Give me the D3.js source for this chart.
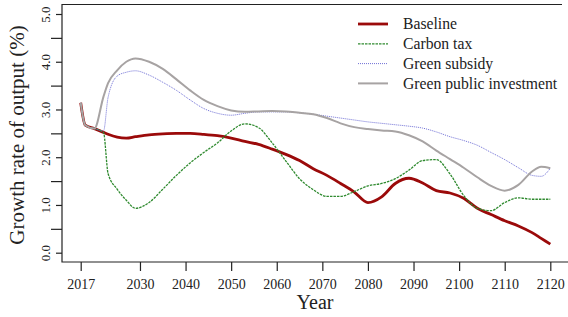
<!DOCTYPE html>
<html lang="en">

<head>
    <meta charset="UTF-8">
    <title>Growth rate of output</title>
    <script src="https://d3js.org/d3.v7.min.js"></script>
    <style type="text/css">
        body {
            margin: 0;
            background: #fff;
        }

        svg text {
            font-family: "Liberation Serif", "DejaVu Serif", serif;
            fill: #222;
        }
    </style>
</head>

<body>
    <div id="chartArea"></div>
    <script type="text/javascript">
        var years = [2017, 2018, 2020, 2022, 2023, 2025, 2027, 2029, 2032, 2035, 2038, 2041, 2044, 2047,
            2050, 2053, 2056, 2059, 2062, 2065, 2068, 2071, 2074, 2077, 2080, 2083, 2086, 2089,
            2092, 2095, 2098, 2101, 2104, 2107, 2110, 2113, 2116, 2118, 2120];

        var baseline = [3.14, 2.67, 2.60, 2.52, 2.48, 2.42, 2.40, 2.43, 2.47, 2.49, 2.50, 2.50, 2.48, 2.45,
            2.40, 2.33, 2.27, 2.17, 2.06, 1.93, 1.76, 1.62, 1.45, 1.27, 1.05, 1.17, 1.45, 1.56,
            1.46, 1.30, 1.25, 1.14, 0.93, 0.80, 0.67, 0.56, 0.42, 0.30, 0.18];

        var carbonTax = [3.14, 2.67, 2.60, 2.52, 1.66, 1.33, 1.10, 0.93, 1.05, 1.33, 1.62, 1.88, 2.10, 2.30,
            2.55, 2.70, 2.62, 2.30, 1.92, 1.55, 1.32, 1.18, 1.18, 1.28, 1.40, 1.45, 1.55, 1.73,
            1.93, 1.95, 1.65, 1.20, 0.93, 0.88, 1.05, 1.15, 1.12, 1.12, 1.12];

        var greenSubsidy = [3.14, 2.67, 2.60, 2.55, 3.25, 3.70, 3.78, 3.81, 3.72, 3.57, 3.40, 3.20, 3.02, 2.92,
            2.88, 2.92, 2.95, 2.95, 2.95, 2.93, 2.90, 2.86, 2.82, 2.78, 2.74, 2.71, 2.68, 2.65,
            2.61, 2.53, 2.43, 2.35, 2.25, 2.10, 1.95, 1.78, 1.62, 1.60, 1.77];

        var greenInvest = [3.14, 2.67, 2.60, 3.27, 3.55, 3.82, 4.00, 4.07, 4.00, 3.85, 3.63, 3.40, 3.20, 3.07,
            2.98, 2.95, 2.96, 2.97, 2.96, 2.93, 2.90, 2.82, 2.71, 2.63, 2.59, 2.56, 2.54, 2.46,
            2.33, 2.14, 1.96, 1.78, 1.58, 1.40, 1.30, 1.42, 1.70, 1.80, 1.77];

        var xTicks = [2017, 2030, 2040, 2050, 2060, 2070, 2080, 2090, 2100, 2110, 2120];
        var yMajor = [0, 1, 2, 3, 4, 5];
        var yMinor = [0.5, 1.5, 2.5, 3.5, 4.5];

        var series = [
            { name: 'Baseline', values: baseline, color: '#9b0a0a', width: 2.8, dash: null },
            { name: 'Carbon tax', values: carbonTax, color: '#2f8a2f', width: 1.3, dash: '2.5,1' },
            { name: 'Green subsidy', values: greenSubsidy, color: '#6f6fd6', width: 1, dash: '1,1' },
            { name: 'Green public investment', values: greenInvest, color: '#a7a3a3', width: 2, dash: null }
        ];

        var w = 568, h = 317;
        var boxL = 62, boxT = 4.5, boxB = 262, boxR = 568;

        var svg = d3.select('#chartArea').append('svg')
            .attr('width', w)
            .attr('height', h);

        var xScale = d3.scaleLinear()
            .domain([2017, 2120])
            .range([80.7, 550.3]);

        var yScale = d3.scaleLinear()
            .domain([0, 5])
            .range([252.7, 14]);

        // frame: left, top and bottom edges
        svg.append('path')
            .attr('d', 'M562,' + boxT + 'H' + boxL + 'V' + boxB + 'H' + boxR)
            .attr('fill', 'none')
            .attr('stroke', '#222')
            .attr('stroke-width', 1.2);

        // x axis
        var xAxis = svg.append('g')
            .attr('transform', 'translate(0,' + boxB + ')')
            .call(d3.axisBottom(xScale).tickValues(xTicks).tickSize(9).tickFormat(d3.format('d')));
        xAxis.select('.domain').remove();
        xAxis.selectAll('line').attr('stroke', '#222').attr('stroke-width', 1.2);
        xAxis.selectAll('text')
            .attr('y', 17)
            .style('font-size', '14px')
            .style('font-family', '"Liberation Serif", serif');

        // y axis, labelled major ticks
        var yAxis = svg.append('g')
            .attr('transform', 'translate(' + boxL + ',0)')
            .call(d3.axisLeft(yScale).tickValues(yMajor).tickSize(6).tickFormat(d3.format('.1f')));
        yAxis.select('.domain').remove();
        yAxis.selectAll('line').attr('stroke', '#222').attr('stroke-width', 1.2);
        yAxis.selectAll('text')
            .attr('x', 0)
            .attr('dy', null)
            .attr('text-anchor', 'middle')
            .attr('transform', 'translate(-12,0) rotate(-90)')
            .style('font-size', '13px')
            .style('font-family', '"Liberation Serif", serif');

        // y axis, minor ticks
        var yMinorAxis = svg.append('g')
            .attr('transform', 'translate(' + boxL + ',0)')
            .call(d3.axisLeft(yScale).tickValues(yMinor).tickSize(11).tickFormat(''));
        yMinorAxis.select('.domain').remove();
        yMinorAxis.selectAll('line').attr('stroke', '#222').attr('stroke-width', 1.2);

        // axis titles
        svg.append('text')
            .attr('x', 315)
            .attr('y', 309)
            .attr('text-anchor', 'middle')
            .style('font-size', '20px')
            .text('Year');

        svg.append('text')
            .attr('transform', 'translate(24,135) rotate(-90)')
            .attr('text-anchor', 'middle')
            .style('font-size', '21px')
            .text('Growth rate of output (%)');

        // lines
        var line = d3.line()
            .x(function (d, i) { return xScale(years[i]); })
            .y(function (d) { return yScale(d); })
            .curve(d3.curveMonotoneX);

        svg.selectAll('path.series')
            .data(series)
            .enter()
            .append('path')
            .attr('class', 'series')
            .attr('d', function (d) { return line(d.values); })
            .attr('fill', 'none')
            .attr('stroke', function (d) { return d.color; })
            .attr('stroke-width', function (d) { return d.width; })
            .attr('stroke-dasharray', function (d) { return d.dash; })
            .attr('stroke-linejoin', 'round');

        // legend
        var legend = svg.selectAll('g.legend')
            .data(series)
            .enter()
            .append('g')
            .attr('class', 'legend')
            .attr('transform', function (d, i) { return 'translate(358,' + (24 + i * 19.8) + ')'; });

        legend.append('line')
            .attr('x1', 0)
            .attr('x2', 30)
            .attr('stroke', function (d) { return d.color; })
            .attr('stroke-width', function (d) { return d.width; })
            .attr('stroke-dasharray', function (d) { return d.dash; });

        legend.append('text')
            .attr('x', 45)
            .attr('dy', '0.33em')
            .style('font-size', '15.7px')
            .text(function (d) { return d.name; });
    </script>
</body>

</html>
